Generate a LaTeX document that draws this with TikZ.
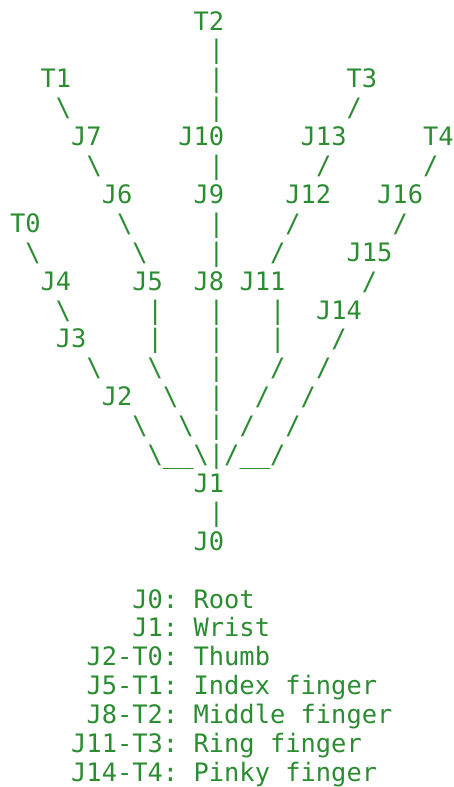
\documentclass[tikz,border=0pt]{standalone}
\usepackage{fontspec}
\setmonofont{DejaVu Sans Mono}
\usepackage{tikz}
\definecolor{termgreen}{RGB}{44,140,50}

\begin{document}
\begin{tikzpicture}[x=15.3pt,y=-28.9pt,
    ch/.style={anchor=base west,inner sep=0pt,outer sep=0pt,text=termgreen,font=\ttfamily\fontsize{25.4}{28.9}\selectfont}]
  \useasboundingbox (-10pt,30pt) rectangle (443pt,-757pt);
  % joints and tips
  \foreach \n/\c/\r in {T2/12/0,T1/2/2,T3/22/2,J7/4/4,J10/11/4,J13/19/4,T4/27/4,
      J6/6/6,J9/12/6,J12/18/6,J16/24/6,T0/0/7,J15/22/8,J4/2/9,J5/8/9,J8/12/9,
      J11/15/9,J14/20/10,J3/3/11,J2/6/13,J1/12/16,J0/12/18}
    \node[ch] (\n) at (\c,\r) {\n};
  % bones
  \foreach \c/\r in {3/3,5/5,7/7,1/8,8/8,3/10,5/12,9/12,10/13,8/14,11/14,9/15,12/15}
    \node[ch] (bs-\c-\r) at (\c,\r) {\textbackslash};
  \foreach \c/\r in {22/3,20/5,27/5,18/7,25/7,17/8,23/9,21/11,17/12,20/12,16/13,19/13,15/14,18/14,14/15,17/15}
    \node[ch] (sl-\c-\r) at (\c,\r) {/};
  \foreach \c/\r in {13/1,13/2,13/3,13/5,13/7,13/8,13/10,13/11,13/12,13/13,13/14,13/15,13/17,9/10,9/11,17/10,17/11}
    \node[ch] (vb-\c-\r) at (\c,\r) {|};
  \foreach \c in {10,15}
    \node[ch] (us-\c) at (\c,15) {\_\_};
  % legend
  \foreach \c/\k/\d [count=\i from 20] in {8/J0/Root,8/J1/Wrist,5/J2-T0/Thumb,
      5/J5-T1/Index finger,5/J8-T2/Middle finger,4/J11-T3/Ring finger,4/J14-T4/Pinky finger}
  {
    \node[ch] (key\i) at (\c,\i) {\k:};
    \node[ch] (desc\i) at (12,\i) {\d};
  }
\end{tikzpicture}
\end{document}
